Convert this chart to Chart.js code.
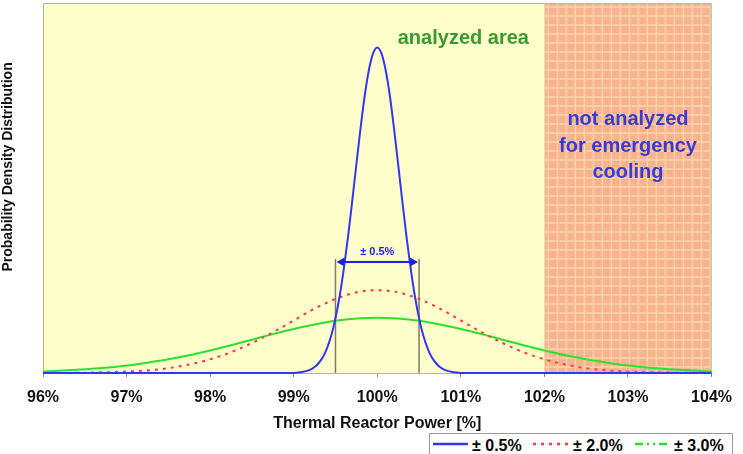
<!DOCTYPE html>
<html>
<head>
<meta charset="utf-8">
<script src="https://cdn.jsdelivr.net/npm/chart.js@4.4.1/dist/chart.umd.min.js"></script>
<style>
  html, body { margin: 0; padding: 0; background: #fff; }
  #wrap { position: relative; width: 743px; height: 454px; overflow: hidden; }
  #legend {
    position: absolute; left: 429px; top: 433px; width: 304px; height: 26px;
    border: 1px solid #9a9a9a; background: #fff; box-sizing: border-box;
    font: bold 16px "Liberation Sans", Arial, sans-serif; color: #000; white-space: nowrap;
  }
  #legend .it { position: absolute; top: 2px; height: 20px; line-height: 20px; }
  #legend svg { position: absolute; top: 7px; }
</style>
</head>
<body>
<div id="wrap">
  <canvas id="pdfChart" width="743" height="454"></canvas>
  <div id="legend"></div>
</div>
<script>
'use strict';

// ── data (height in % of plot height) ──
const xTicks      = [96, 97, 98, 99, 100, 101, 102, 103, 104];
const seriesNames = ['± 0.5%', '± 2.0%', '± 3.0%'];

const xNarrow = [96, 99.0, 99.1, 99.15, 99.2, 99.25, 99.3, 99.35, 99.4, 99.45, 99.5, 99.55, 99.6, 99.65,
                 99.7, 99.75, 99.8, 99.85, 99.9, 99.95, 100, 100.05, 100.1, 100.15, 100.2, 100.25, 100.3,
                 100.35, 100.4, 100.45, 100.5, 100.55, 100.6, 100.65, 100.7, 100.75, 100.8, 100.85,
                 100.9, 101.0, 104];
const yNarrow = [0, 0, 0.3, 0.5, 0.9, 1.6, 2.7, 4.3, 6.8, 10.2, 14.8, 20.8, 28.2, 36.8,
                 46.4, 56.4, 66.2, 75.0, 81.9, 86.4, 88, 86.4, 81.9, 75.0, 66.2, 56.4, 46.4,
                 36.8, 28.2, 20.8, 14.8, 10.2, 6.8, 4.3, 2.7, 1.6, 0.9, 0.5,
                 0.3, 0, 0];

const xWide = [96, 96.25, 96.5, 96.75, 97, 97.25, 97.5, 97.75, 98, 98.25, 98.5, 98.75, 99, 99.25, 99.5, 99.75,
               100, 100.25, 100.5, 100.75, 101, 101.25, 101.5, 101.75, 102, 102.25, 102.5, 102.75, 103,
               103.25, 103.5, 103.75, 104];
const yMid  = [0, 0, 0.1, 0.2, 0.4, 0.7, 1.3, 2.3, 3.7, 5.6, 8.1, 11.0, 14.2, 17.4, 20.0, 21.8,
               22.4, 21.8, 20.0, 17.4, 14.2, 11.0, 8.1, 5.6, 3.7, 2.3, 1.3, 0.7, 0.4, 0.2, 0.1, 0, 0];
const yWide = [0.4, 0.65, 1.0, 1.4, 2.0, 2.8, 3.7, 4.8, 6.1, 7.5, 9.0, 10.5, 11.9, 13.1, 14.1, 14.7,
               14.9, 14.7, 14.1, 13.1, 11.9, 10.5, 9.0, 7.5, 6.1, 4.8, 3.7, 2.8, 2.0, 1.4, 1.0, 0.65, 0.4];

const analyzedLimit = 102;          // right edge of analysed area
const band          = [99.5, 100.5]; // ± 0.5% bracket
const bandHeight    = 30.8;
const arrowLevel    = 30;

const colors = { blue: '#3535F5', red: '#FF3A3A', green: '#2EE02E' };
const FONT = '"Liberation Sans", Arial, sans-serif';

const toXY = (xs, ys) => xs.map((x, i) => ({ x, y: ys[i] }));

// ── backgrounds, bracket and notes ──────────
const zonesPlugin = {
  id: 'zones',
  beforeDatasetsDraw(chart) {
    const { ctx, chartArea: a, scales: { x, y } } = chart;
    const xs = x.getPixelForValue(analyzedLimit);
    ctx.save();
    ctx.fillStyle = '#FFFFCC';
    ctx.fillRect(a.left, a.top, xs - a.left, a.bottom - a.top);
    ctx.fillStyle = '#F7B38E';
    ctx.fillRect(xs, a.top, a.right - xs, a.bottom - a.top);
    // plaid texture of the hatched zone
    ctx.strokeStyle = 'rgba(255,222,180,0.75)';
    ctx.lineWidth = 1.5;
    ctx.beginPath();
    for (let px = xs + 4; px < a.right; px += 9) { ctx.moveTo(px, a.top); ctx.lineTo(px, a.bottom); }
    for (let py = a.top + 4; py < a.bottom; py += 9) { ctx.moveTo(xs, py); ctx.lineTo(a.right, py); }
    ctx.stroke();
    // frame
    ctx.lineWidth = 1;
    ctx.strokeStyle = '#b4b4a8';
    ctx.strokeRect(a.left + 0.5, a.top + 0.5, a.right - a.left - 1, a.bottom - a.top);
    // bracket lines
    ctx.strokeStyle = '#7c7c6c';
    ctx.lineWidth = 1.5;
    ctx.beginPath();
    band.forEach(v => {
      const px = x.getPixelForValue(v);
      ctx.moveTo(px, y.getPixelForValue(0));
      ctx.lineTo(px, y.getPixelForValue(bandHeight));
    });
    ctx.stroke();
    ctx.restore();
  },
  afterDatasetsDraw(chart) {
    const { ctx, chartArea: a, scales: { x, y } } = chart;
    ctx.save();
    // double arrow
    const x1 = x.getPixelForValue(band[0]), x2 = x.getPixelForValue(band[1]);
    const ay = y.getPixelForValue(arrowLevel);
    ctx.strokeStyle = ctx.fillStyle = '#2020F0';
    ctx.lineWidth = 2;
    ctx.beginPath(); ctx.moveTo(x1 + 6, ay); ctx.lineTo(x2 - 6, ay); ctx.stroke();
    ctx.beginPath(); ctx.moveTo(x1 + 1, ay); ctx.lineTo(x1 + 9, ay - 4.5); ctx.lineTo(x1 + 9, ay + 4.5); ctx.fill();
    ctx.beginPath(); ctx.moveTo(x2 - 1, ay); ctx.lineTo(x2 - 9, ay - 4.5); ctx.lineTo(x2 - 9, ay + 4.5); ctx.fill();
    ctx.font = 'bold 11px ' + FONT;
    ctx.textAlign = 'center';
    ctx.textBaseline = 'middle';
    ctx.fillText('± 0.5%', (x1 + x2) / 2, ay - 10);
    // notes
    ctx.font = 'bold 20px ' + FONT;
    ctx.fillStyle = '#3A9A2E';
    ctx.fillText('analyzed area', x.getPixelForValue(101.03), y.getPixelForValue(90.3));
    ctx.fillStyle = '#3A3AD8';
    const nx = x.getPixelForValue(103.0);
    ctx.fillText('not analyzed', nx, y.getPixelForValue(68.4));
    ctx.fillText('for emergency', nx, y.getPixelForValue(61.3));
    ctx.fillText('cooling', nx, y.getPixelForValue(54.1));
    // y-axis title (sits above the plot centre in the original)
    ctx.translate(8, y.getPixelForValue(55.7));
    ctx.rotate(-Math.PI / 2);
    ctx.font = 'bold 14px ' + FONT;
    ctx.fillStyle = '#111';
    ctx.fillText('Probability Density Distribution', 0, 0);
    ctx.restore();
  }
};

const lineSet = (label, data, color, dash) => ({
  label, data, borderColor: color, backgroundColor: color,
  borderWidth: 2, borderDash: dash, pointRadius: 0,
  cubicInterpolationMode: 'monotone', fill: false, clip: 4
});

new Chart(document.getElementById('pdfChart'), {
  type: 'line',
  data: {
    datasets: [
      lineSet(seriesNames[0], toXY(xNarrow, yNarrow), colors.blue, []),
      lineSet(seriesNames[1], toXY(xWide, yMid), colors.red, [3, 5]),
      lineSet(seriesNames[2], toXY(xWide, yWide), colors.green, [])
    ]
  },
  options: {
    responsive: false, animation: false,
    layout: { padding: { top: 3, right: 31, left: 0, bottom: 0 } },
    plugins: { legend: { display: false }, tooltip: { enabled: false } },
    scales: {
      x: {
        type: 'linear', min: 96, max: 104,
        afterBuildTicks: s => { s.ticks = xTicks.map(v => ({ value: v })); },
        afterFit: s => { s.height = 81; },
        border: { display: true, color: '#8a8a80', width: 1 },
        grid: { display: true, drawOnChartArea: false, drawTicks: true, tickLength: 4, color: '#8a8a80' },
        ticks: { color: '#111', padding: 11, font: { family: FONT, size: 16, weight: 'bold' }, callback: v => v + '%' },
        title: { display: true, text: 'Thermal Reactor Power [%]', color: '#111',
                 font: { family: FONT, size: 16, weight: 'bold' }, padding: { top: 0, bottom: 21 } }
      },
      y: {
        min: 0, max: 100,
        afterFit: s => { s.width = 43; },
        border: { display: true, color: '#b4b4a8' },
        grid: { display: false },
        ticks: { display: false }
      }
    }
  },
  plugins: [zonesPlugin]
});

// ── legend ──────────────────────────────────
const legendDash = [[], [3, 5], [8, 4, 2, 4, 2, 4]];
const legendCol  = [colors.blue, colors.red, colors.green];
const legendPos  = [[3, 42], [103, 143], [205, 244]];
document.getElementById('legend').innerHTML = seriesNames.map((n, i) =>
  `<svg style="left:${legendPos[i][0]}px" width="35" height="6"><line x1="0" y1="3" x2="35" y2="3" stroke="${legendCol[i]}" stroke-width="2.5" stroke-dasharray="${legendDash[i].join(' ') || 'none'}"/></svg>` +
  `<span class="it" style="left:${legendPos[i][1]}px">${n}</span>`
).join('');
</script>
</body>
</html>
